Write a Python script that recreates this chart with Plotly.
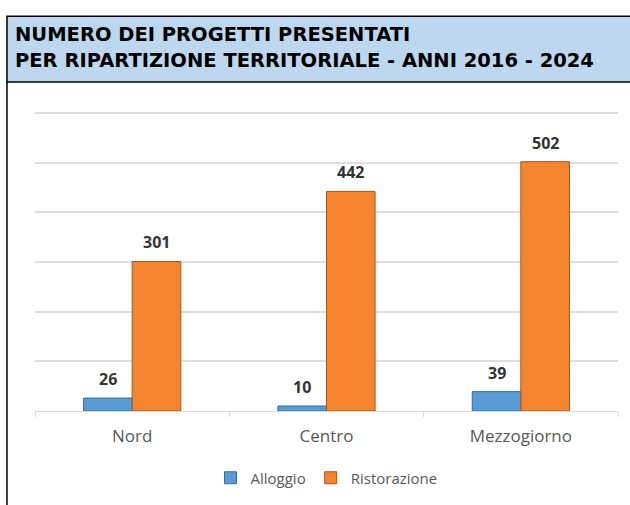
import plotly.graph_objects as go

categories = ["Nord", "Centro", "Mezzogiorno"]
alloggio = [26, 10, 39]
ristorazione = [301, 442, 502]
series_names = ["Alloggio", "Ristorazione"]
title_lines = ["NUMERO DEI PROGETTI PRESENTATI", "PER RIPARTIZIONE TERRITORIALE - ANNI 2016 - 2024"]

W, H = 630, 505
L, R, T, B = 35, 12, 110, 93
pw = W - L - R
ph = H - T - B

def px_x(p):
    return (p - L) / pw

def px_y(p):
    return (H - B - p) / ph

BAR_HALF = pw / 3 * 0.5 / 4  # half of one bar width in px

fig = go.Figure()
fig.add_bar(
    x=categories, y=alloggio, name=series_names[0],
    marker=dict(color="#5B9BD5", line=dict(color="#2F6EA8", width=1)),
)
fig.add_bar(
    x=categories, y=ristorazione, name=series_names[1],
    marker=dict(color="#F5842F", line=dict(color="#A9531A", width=1)),
)

annotations = []
for vals, sign in ((alloggio, -1), (ristorazione, 1)):
    for c, v in zip(categories, vals):
        annotations.append(dict(
            x=c, y=v, xref="x", yref="y", text=str(v), showarrow=False,
            xanchor="center", yanchor="bottom", xshift=sign * BAR_HALF, yshift=6,
            font=dict(family="Open Sans", size=16, color="#333333", weight="bold"),
        ))

shapes = [
    dict(type="rect", xref="paper", yref="paper",
         x0=px_x(7), x1=px_x(645), y0=px_y(82), y1=px_y(16),
         fillcolor="#BDD7EE", line=dict(color="black", width=1.5), layer="below"),
    dict(type="line", xref="paper", yref="paper",
         x0=px_x(7), x1=px_x(7), y0=px_y(82), y1=px_y(520),
         line=dict(color="black", width=1.5)),
]

for i, line in enumerate(title_lines):
    annotations.append(dict(
        text=line, xref="paper", yref="paper", x=px_x(13), y=px_y(34 + 26 * i),
        xanchor="left", yanchor="middle", showarrow=False,
        font=dict(family="DejaVu Sans", size=19.5, color="black", weight="bold"),
    ))

fig.update_layout(
    width=W, height=H,
    margin=dict(l=L, r=R, t=T, b=B),
    paper_bgcolor="white", plot_bgcolor="white",
    barmode="group", bargap=0.5, bargroupgap=0,
    showlegend=True,
    legend=dict(orientation="h", x=0.5, xanchor="center", y=px_y(478), yanchor="middle",
                font=dict(family="Open Sans", size=15, color="#595959"),
                itemwidth=30, traceorder="normal"),
    shapes=shapes, annotations=annotations,
    xaxis=dict(showgrid=False, showline=True, linecolor="#D9D9D9", linewidth=1,
               ticks="outside", tickson="boundaries", ticklen=5, tickcolor="#D9D9D9",
               ticklabelstandoff=10,
               tickfont=dict(family="Open Sans", size=17, color="#595959")),
    yaxis=dict(range=[0, 606], tickvals=[100, 200, 300, 400, 500, 600],
               showgrid=True, gridcolor="#DEDEDE", gridwidth=1.5,
               showticklabels=False, zeroline=False),
)

fig.write_html("out.html", config={"displayModeBar": False},
               post_script="document.body.style.margin='0';")
